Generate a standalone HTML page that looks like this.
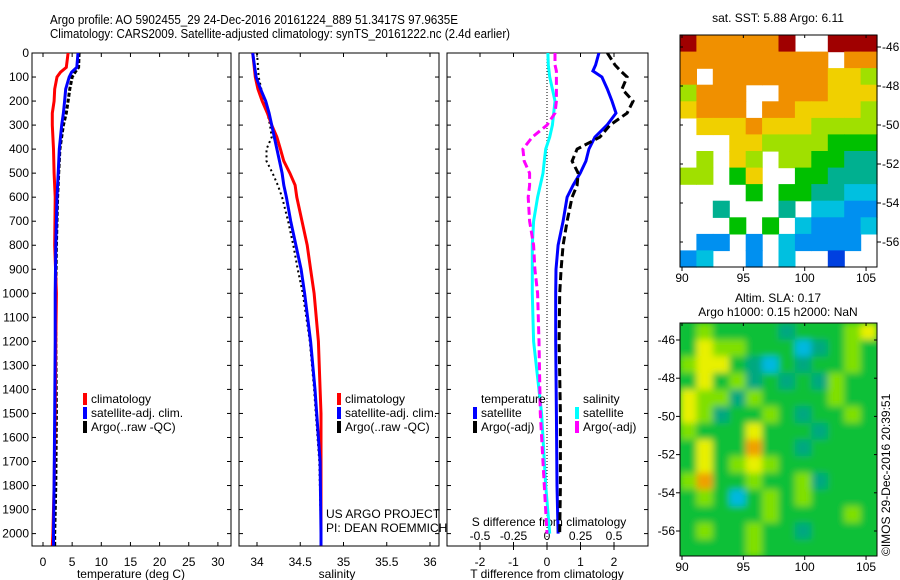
<!DOCTYPE html>
<html><head><meta charset="utf-8"><style>
body{margin:0;background:#fff}
svg{display:block;font-family:"Liberation Sans",sans-serif}
text{fill:#000}
</style></head><body>
<svg id="s" width="900" height="580" xmlns="http://www.w3.org/2000/svg">
<defs>
<clipPath id="c1"><rect x="32" y="53" width="199" height="493"/></clipPath>
<clipPath id="c2"><rect x="239" y="53" width="200" height="493"/></clipPath>
<clipPath id="c3"><rect x="447" y="53" width="201" height="493"/></clipPath>
<clipPath id="cm2"><rect x="680" y="323" width="197" height="233"/></clipPath>
<filter id="bl"><feGaussianBlur stdDeviation="3.5"/></filter>
</defs>
<text x="50" y="24" font-size="13" textLength="408" lengthAdjust="spacingAndGlyphs">Argo profile: AO 5902455_29 24-Dec-2016 20161224_889 51.3417S 97.9635E</text>
<text x="50" y="38" font-size="13" textLength="460" lengthAdjust="spacingAndGlyphs">Climatology: CARS2009. Satellite-adjusted climatology: synTS_20161222.nc (2.4d earlier)</text>
<text x="778" y="22" font-size="12" text-anchor="middle">sat. SST: 5.88 Argo: 6.11</text>
<text x="778" y="302" font-size="12" text-anchor="middle">Altim. SLA: 0.17</text>
<text x="778" y="316" font-size="12" text-anchor="middle">Argo h1000: 0.15 h2000: NaN</text>
<g id="g"></g>
</svg>
<script>
// ---- data ----
const depthT = [0,60,80,100,150,200,250,300,400,500,600,800,1000,1200,1500,1800,2000,2050];
const tempClim = [4.3,4.0,3.0,2.4,2.0,1.9,1.6,1.6,1.8,1.9,2.1,2.0,2.3,2.2,2.1,1.9,1.7,1.6];
const tempSat  = [6.0,5.8,4.9,4.5,3.9,3.7,3.5,3.2,2.8,2.6,2.4,2.2,2.1,2.1,2.0,1.9,1.8,1.8];
const tempArgo = [6.2,6.1,5.5,5.0,4.6,4.3,4.0,3.5,2.9,2.7,2.5,2.3,2.2,2.2,2.3,2.2,2.0,2.0];
const depthS = [0,100,150,200,250,300,350,400,450,500,550,600,700,800,900,1000,1200,1400,1500,1700,2000,2050];
const salClim = [33.95,33.98,34.01,34.06,34.12,34.17,34.23,34.27,34.31,34.38,34.44,34.46,34.52,34.58,34.62,34.66,34.71,34.73,34.74,34.74,34.74,34.74];
const salSat  = [33.95,33.99,34.04,34.10,34.14,34.17,34.20,34.23,34.26,34.29,34.31,34.34,34.39,34.45,34.51,34.55,34.62,34.67,34.69,34.73,34.74,34.74];
const salArgo = [34.00,34.02,34.05,34.08,34.12,34.15,34.17,34.11,34.11,34.18,34.24,34.29,34.36,34.42,34.47,34.53,34.61,34.66,34.68,34.72,34.74,34.74];
const depthD = [0,50,75,100,150,200,250,300,350,400,450,500,550,600,700,800,900,1000,1200,1500,1800,2000];
const dTsat  = [1.55,1.45,1.37,1.64,1.80,1.94,2.06,1.79,1.43,1.25,1.16,0.99,0.78,0.60,0.48,0.33,0.27,0.26,0.26,0.28,0.30,0.33];
const dTargo = [1.80,2.03,2.20,2.39,2.24,2.57,2.39,1.88,1.58,0.90,0.75,0.93,0.90,0.75,0.60,0.48,0.42,0.38,0.36,0.40,0.40,0.38];
const dSsat  = [0.007,0.01,0.015,0.02,0.04,0.06,0.05,0.04,0.02,-0.01,-0.02,-0.03,-0.05,-0.07,-0.10,-0.11,-0.11,-0.11,-0.10,-0.04,-0.01,0.02];
const dSargo = [0.06,0.06,0.07,0.07,0.07,0.07,0.06,0.0,-0.11,-0.18,-0.17,-0.13,-0.13,-0.14,-0.13,-0.10,-0.09,-0.07,-0.06,-0.05,-0.02,0.00];
const depthTicks = [0,100,200,300,400,500,600,700,800,900,1000,1100,1200,1300,1400,1500,1600,1700,1800,1900,2000];
const tTicks = [0,5,10,15,20,25,30];
const sTicks = [34,34.5,35,35.5,36];
const dTTicks = [-2,-1,0,1,2];
const dSTicks = [-0.5,-0.25,0,0.25,0.5];
const lonTicks = [90,95,100,105];
const latTicks = [-46,-48,-50,-52,-54,-56];
// SST map grid (0 cold .. 9 warm, '.' = missing), rows north->south
const sstRows = ["9888889..999","888888888.88","8.8888888776","6888..888777","7888.8877776",".77787776666","...776666555",".6.76.665544","66.57..55444","....5.554433","..4...4.3322","...5.5.32223",".22.2.32222.","23..2.3..1.."];
// SLA map grid (2 low .. 8 high)
const slaRows = ["565555455567","576655534565","677543545565","575645454655","766465555655","764556545565","655575554555","575585545555","575676555555","685565564555","565356565555","555556555565","565565545555","555565555555"];

// ---- helpers ----
const NS="http://www.w3.org/2000/svg", G=document.getElementById('g');
function el(t,a,p){const e=document.createElementNS(NS,t);for(const k in a)e.setAttribute(k,a[k]);(p||G).appendChild(e);return e;}
const yD=d=>53+d*0.2403;
const xT=v=>43+v*5.83;
const xS=v=>257+(v-34)*86.5;
const xDT=v=>547+v*33.5;
const xDS=v=>547+v*134;
function line(xs,ys,fx,col,w,dash,clip,name){
  let p=xs.map((v,i)=>fx(v).toFixed(1)+','+yD(ys[i]).toFixed(1)).join(' ');
  const e=el('polyline',{points:p,fill:'none',stroke:col,'stroke-width':w,'clip-path':'url(#'+clip+')'});
  if(dash)e.setAttribute('stroke-dasharray',dash);
  
  
}
function frame(x,w,name){
  const r=el('rect',{x:x,y:53,width:w,height:493,fill:'none',stroke:'#000','stroke-width':1});
  
  
}
function txt(x,y,s,size,anchor,name){
  const t=el('text',{x:x,y:y,'font-size':size,'text-anchor':anchor||'start'});t.textContent=s;
  
  
  return t;
}
function xticks(vals,fx,lab,name){
  vals.forEach(v=>{const x=fx(v);
    el('line',{x1:x,x2:x,y1:546,y2:542,stroke:'#000'});el('line',{x1:x,x2:x,y1:53,y2:57,stroke:'#000'});
    if(lab)txt(x,566,String(v),12,'middle',name);});
}
frame(32,199,'temperature-panel');frame(239,200,'salinity-panel');frame(447,201,'difference-panel');
depthTicks.forEach(d=>{const y=yD(d);
  txt(29,y+4,String(d),12,'end','depth-tick-label');
  [[32,36],[227,231],[239,243],[435,439],[447,451],[644,648]].forEach(a=>el('line',{x1:a[0],x2:a[1],y1:y,y2:y,stroke:'#000'}));});
xticks(tTicks,xT,true,'temperature-tick-label');
xticks(sTicks,xS,true,'salinity-tick-label');
xticks(dTTicks,xDT,true,'t-diff-tick-label');
dSTicks.forEach(v=>{const x=xDS(v);el('line',{x1:x,x2:x,y1:546,y2:550,stroke:'#000'});txt(x,540,String(v),12,'middle','s-diff-tick-label');});
txt(131,578,'temperature (deg C)',12,'middle','temperature-axis-title');
txt(337,578,'salinity',12,'middle','salinity-axis-title');
txt(547,578,'T difference from climatology',12,'middle','t-diff-axis-title');
txt(549,526,'S difference from climatology',12,'middle','s-diff-axis-title');
const z=el('line',{x1:547,x2:547,y1:53,y2:546,stroke:'#000','stroke-dasharray':'1,2'});


line(tempArgo,depthT,xT,'#000',3,'4,2','c1','temp-argo-line');
line(tempClim,depthT,xT,'#f00',3,null,'c1','temp-clim-line');
line(tempSat,depthT,xT,'#00f',3,null,'c1','temp-sat-line');
line(salArgo,depthS,xS,'#000',2,'2,3','c2','sal-argo-line');
line(salClim,depthS,xS,'#f00',3,null,'c2','sal-clim-line');
line(salSat,depthS,xS,'#00f',3,null,'c2','sal-sat-line');
line(dSsat,depthD,xDS,'#0ff',3,null,'c3','s-diff-sat-line');
line(dSargo,depthD,xDS,'#f0f',3,'8,4','c3','s-diff-argo-line');
line(dTsat,depthD,xDT,'#00f',3,null,'c3','t-diff-sat-line');
line(dTargo,depthD,xDT,'#000',3,'8,4','c3','t-diff-argo-line');
function leg(x,y,col,s,name){el('rect',{x:x,y:y-10,width:4,height:12,fill:col});txt(x+8,y,s,12,'start',name);}
leg(83,403,'#f00','climatology','legend-climatology');leg(83,417,'#00f','satellite-adj. clim.','legend-satellite-adj');leg(83,431,'#000','Argo(..raw -QC)','legend-argo');
leg(337,403,'#f00','climatology','legend-climatology');leg(337,417,'#00f','satellite-adj. clim.','legend-satellite-adj');leg(337,431,'#000','Argo(..raw -QC)','legend-argo');
txt(481,403,'temperature',12,'start','legend-temperature-header');txt(583,403,'salinity',12,'start','legend-salinity-header');
leg(473,417,'#00f','satellite','legend-t-satellite');leg(473,431,'#000','Argo(-adj)','legend-t-argo');
leg(575,417,'#0ff','satellite','legend-s-satellite');leg(575,431,'#f0f','Argo(-adj)','legend-s-argo');
txt(326,518,'US ARGO PROJECT',12,'start','credit-project');txt(326,532,'PI: DEAN ROEMMICH',12,'start','credit-pi');
// maps
const sstPal=['#0000a0','#0040e0','#0090f0','#00c0e0','#00b090','#00c000','#a0e000','#f0d000','#f09000','#a00000'];
const slaPal={'2':'#2070ff','3':'#00b8e0','4':'#00a880','5':'#10c038','6':'#80e000','7':'#e8f000','8':'#f0a000'};
function map(rows,x0,y0,w,h,colf,name,clip){
  const g=el('g',{});
  
  
  let inner=g;
  if(clip){el('rect',{x:x0,y:y0,width:w,height:h,fill:'#10c038'},g);const gg=el('g',{'clip-path':'url(#'+clip+')'},g);inner=el('g',{filter:'url(#bl)'},gg);}
  const nr=rows.length,nc=rows[0].length,cw=w/nc,ch=h/nr;
  rows.forEach((r,i)=>{for(let j=0;j<nc;j++){const c=r[j];if(c==='.')continue;
    const cell=el('rect',{x:(x0+j*cw).toFixed(1),y:(y0+i*ch).toFixed(1),width:(cw+0.6).toFixed(1),height:(ch+0.6).toFixed(1),fill:colf(+c)},inner);
    
    }});
  el('rect',{x:x0,y:y0,width:w,height:h,fill:'none',stroke:'#000'},g);
}
map(sstRows,680,35,197,232,v=>sstPal[v],'sst-map',null);
map(slaRows,680,323,197,233,v=>slaPal[v],'sla-map','cm2');
function mapAxes(y0,y1,lat0,pxdeg,name,right){
  lonTicks.forEach(l=>{const x=682+(l-90)*12.27;el('line',{x1:x,x2:x,y1:y1,y2:y1+4,stroke:'#000'});el('line',{x1:x,x2:x,y1:y0,y2:y0+3,stroke:'#000'});
    txt(x,y1+15,String(l),12,'middle',name+'-lon-label');});
  latTicks.forEach(l=>{const y=lat0+(-46-l)*pxdeg;
    if(right){el('line',{x1:877,x2:881,y1:y,y2:y,stroke:'#000'});el('line',{x1:680,x2:683,y1:y,y2:y,stroke:'#000'});txt(882,y+4,String(l),12,'start',name+'-lat-label');}
    else{el('line',{x1:676,x2:680,y1:y,y2:y,stroke:'#000'});el('line',{x1:874,x2:877,y1:y,y2:y,stroke:'#000'});txt(675,y+4,String(l),12,'end',name+'-lat-label');}});
}
mapAxes(35,267,47,19.5,'sst-map',true);
mapAxes(323,556,340,19.1,'sla-map',false);
const ts=txt(0,0,'©IMOS 29-Dec-2016 20:39:51',12,'start','timestamp');
ts.setAttribute('transform','translate(890,556) rotate(-90)');
</script>
</body></html>
